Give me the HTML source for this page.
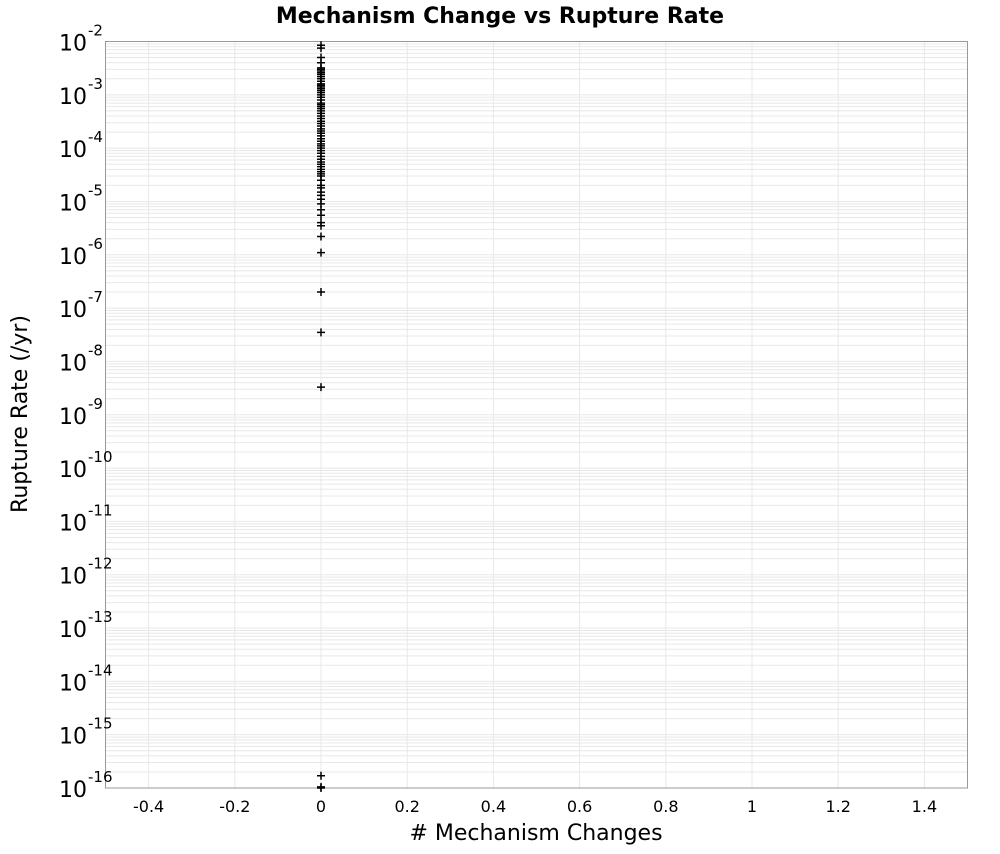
<!DOCTYPE html>
<html><head><meta charset="utf-8"><style>
body{margin:0;background:#fff;font-family:"DejaVu Sans","Liberation Sans",sans-serif}
svg text{font-family:"DejaVu Sans","Liberation Sans",sans-serif}
</style></head><body>
<svg id="c" width="1000" height="850">
<text x="500" y="23" text-anchor="middle" font-size="22" font-weight="bold">Mechanism Change vs Rupture Rate</text>
<g id="grid"></g>
<rect x="105.5" y="41.5" width="862" height="746.5" fill="none" stroke="#999" stroke-width="1"/>
<g id="yt"></g><g id="xt"></g><g id="pts"></g>
<text x="536" y="840" text-anchor="middle" font-size="22"># Mechanism Changes</text>
<text transform="translate(27,414) rotate(-90)" text-anchor="middle" font-size="22">Rupture Rate (/yr)</text>
</svg>
<script>
const xTicks=[-0.4,-0.2,0,0.2,0.4,0.6,0.8,1,1.2,1.4];
const yDecades=[-2,-3,-4,-5,-6,-7,-8,-9,-10,-11,-12,-13,-14,-15,-16];
const xValues=[0];
const yValues=[8.5e-3,7.5e-3,5e-3,4e-3,3.2e-3,3e-3,2.8e-3,2.6e-3,2.4e-3,2.2e-3,2e-3,1.8e-3,1.6e-3,1.5e-3,1.4e-3,1.3e-3,1.2e-3,1.1e-3,1e-3,9e-4,8e-4,7e-4,6.5e-4,6e-4,5.5e-4,5e-4,4.5e-4,4e-4,3.6e-4,3.2e-4,2.9e-4,2.6e-4,2.3e-4,2.1e-4,1.9e-4,1.7e-4,1.5e-4,1.35e-4,1.2e-4,1.1e-4,1e-4,9e-5,8e-5,7e-5,6.2e-5,5.5e-5,5e-5,4.5e-5,4e-5,3.6e-5,3.3e-5,3e-5,2.5e-5,2e-5,1.8e-5,1.5e-5,1.3e-5,1.1e-5,9e-6,7e-6,5.5e-6,4e-6,3.5e-6,2.2e-6,1.1e-6,2e-7,3.5e-8,3.3e-9,1.7e-16,1.05e-16,1e-16];
const L=105.5,R=967.5,T=41.5,B=788,ns='http://www.w3.org/2000/svg';
const xS=v=>L+(v+0.5)/2*(R-L);
const yS=v=>T+(-2-Math.log10(v))/14*(B-T);
function mk(t,a,p){const e=document.createElementNS(ns,t);for(const k in a)e.setAttribute(k,a[k]);p.appendChild(e);return e;}
const g=document.getElementById('grid'),yt=document.getElementById('yt'),xt=document.getElementById('xt'),pts=document.getElementById('pts');
yDecades.forEach(d=>{
  for(let m=1;m<10;m++){const v=m*Math.pow(10,d);if(v>0.0100001)continue;const y=yS(v);
    const l=mk('line',{x1:L,x2:R,y1:y,y2:y,stroke:'#e8e8e8','stroke-width':1},g);
    
    }
  const y=yS(Math.pow(10,d));
  const t=mk('text',{x:87,y:y+9,'text-anchor':'end','font-size':22},yt);
  
  
  t.textContent='10';
  const s=mk('text',{x:88,y:y-6,'font-size':15},yt);
  
  
  s.textContent=String(d);
});
xTicks.forEach(v=>{const x=xS(v);
  const l=mk('line',{x1:x,x2:x,y1:T,y2:B,stroke:'#e8e8e8','stroke-width':1},g);
  
  
  const t=mk('text',{x:x,y:812,'text-anchor':'middle','font-size':16},xt);
  
  
  t.textContent=String(v);
});
yValues.forEach(v=>{const x=xS(xValues[0]),y=yS(v);
  const p=mk('path',{d:`M${x-4},${y}H${x+4}M${x},${y-4}V${y+4}`,stroke:'#000','stroke-width':1.5,fill:'none'},pts);
  
  
});
</script>
</body></html>
